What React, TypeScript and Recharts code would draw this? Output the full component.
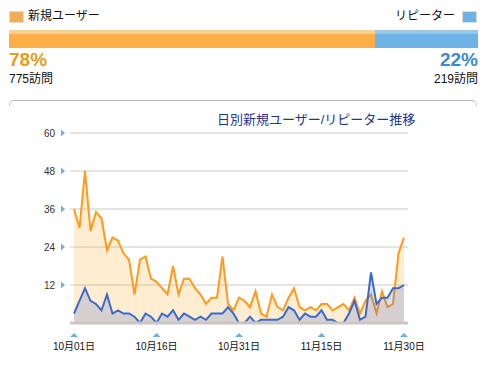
import { Area, AreaChart, CartesianGrid, XAxis, YAxis } from "recharts";

const newUsers = [
  36, 30, 48, 29, 35, 33, 23, 27, 26, 22, 20, 9, 20, 21, 14, 13, 11, 9, 18, 9, 14, 14, 11, 9, 6, 8, 8, 21, 6, 4, 8,
  7, 5, 10, 3, 2, 9, 5, 4, 8, 11, 5, 4, 5, 4, 6, 6, 4, 5, 6, 4, 8, 3, 7, 9, 3, 10, 5, 6, 22, 27
];
const repeaters = [
  3, 7, 11, 7, 6, 4, 9, 3, 4, 3, 3, 2, 0, 3, 2, 0, 3, 2, 4, 1, 3, 2, 1, 2, 1, 3, 3, 3, 5, 3, 0,
  0, 2, 0, 1, 1, 1, 1, 2, 5, 4, 1, 3, 2, 2, 4, 1, 1, 0, 0, 3, 7, 1, 2, 16, 6, 8, 8, 11, 11, 12
];
const octDays = 31;
const novDays = 30;
const xTicks = ["10月01日", "10月16日", "10月31日", "11月15日", "11月30日"];
const yTicks = [0, 6, 12, 18, 24, 30, 36, 42, 48, 54, 60];
const yLabels = [12, 24, 36, 48, 60];
const totals = { newUsers: 775, repeaters: 219 };
const shares = { newUsers: 78, repeaters: 22 };

const pad = (n: number) => (n < 10 ? "0" + n : String(n));
const days = [
  ...Array.from({ length: octDays }, (_, i) => `10月${pad(i + 1)}日`),
  ...Array.from({ length: novDays }, (_, i) => `11月${pad(i + 1)}日`)
];
const data = days.map((day, i) => ({ day, newUsers: newUsers[i], repeaters: repeaters[i] }));

const font = '"Liberation Sans", "Noto Sans CJK JP", sans-serif';
const tickBlue = "#6ab0e0";

function YTick({ x, y, payload }: any) {
  if (!yLabels.includes(payload.value)) return null;
  return (
    <g>
      <text x={x - 15} y={y} textAnchor="end" dominantBaseline="central" fontSize={10} fill="#333" fontFamily={font}>
        {payload.value}
      </text>
      <polygon points={`${x - 9},${y - 3.5} ${x - 9},${y + 3.5} ${x - 5},${y}`} fill={tickBlue} />
    </g>
  );
}

function XTick({ x, y, payload }: any) {
  return (
    <g>
      <polygon points={`${x - 4},${y + 14} ${x + 4},${y + 14} ${x},${y + 10}`} fill={tickBlue} />
      <text x={x} y={y + 23} textAnchor="middle" dominantBaseline="central" fontSize={10} fill="#111" fontFamily={font}>
        {payload.value}
      </text>
    </g>
  );
}

export default function App() {
  const splitPct = shares.newUsers;
  return (
    <div style={{ position: "absolute", left: 0, top: 0, width: 482, height: 370, background: "#fff", fontFamily: font, overflow: "hidden" }}>
      {/* legend */}
      <div style={{ position: "absolute", left: 9, top: 11, width: 13, height: 10, background: "#f0ad55", border: "1px solid #ddd" }} />
      <div style={{ position: "absolute", left: 28, top: 8, fontSize: 12, color: "#111", lineHeight: "16px" }}>新規ユーザー</div>
      <div style={{ position: "absolute", right: 27, top: 8, fontSize: 12, color: "#111", lineHeight: "16px" }}>リピーター</div>
      <div style={{ position: "absolute", left: 462, top: 11, width: 13, height: 10, background: "#6cb2e4", border: "1px solid #ddd" }} />

      {/* share bar */}
      <div style={{ position: "absolute", left: 9, top: 30, width: 469, height: 18, display: "flex" }}>
        <div style={{ width: `${splitPct}%`, background: "linear-gradient(#ffcf8e 0 4px, #ffad46 4px)" }} />
        <div style={{ flex: 1, background: "linear-gradient(#95c8ee 0 4px, #6cb2e4 4px)" }} />
      </div>
      <div style={{ position: "absolute", left: 9, top: 49, fontSize: 19, fontWeight: "bold", color: "#e39d22", lineHeight: "22px" }}>
        {shares.newUsers}%
      </div>
      <div style={{ position: "absolute", right: 4, top: 49, fontSize: 19, fontWeight: "bold", color: "#3a8ccc", lineHeight: "22px" }}>
        {shares.repeaters}%
      </div>
      <div style={{ position: "absolute", left: 9, top: 71, fontSize: 12, color: "#111", lineHeight: "16px" }}>{totals.newUsers}訪問</div>
      <div style={{ position: "absolute", right: 4, top: 71, fontSize: 12, color: "#111", lineHeight: "16px" }}>{totals.repeaters}訪問</div>

      {/* panel top */}
      <div style={{ position: "absolute", left: 9, top: 100, width: 466, height: 5, borderTop: "1px solid #bbb", borderLeft: "1px solid #ccc", borderRight: "1px solid #ccc", borderRadius: "5px 5px 0 0" }} />
      <div style={{ position: "absolute", left: 217, top: 111, fontSize: 13, color: "#1f3690", lineHeight: "18px" }}>日別新規ユーザー/リピーター推移</div>

      <div style={{ position: "absolute", left: 0, top: 0 }}>
        <AreaChart width={482} height={370} data={data} margin={{ top: 133, right: 74, bottom: 17, left: 40 }}>
          <CartesianGrid horizontal vertical={false} stroke="#c9c9c9" />
          <XAxis
            dataKey="day"
            ticks={xTicks}
            interval={0}
            padding={{ left: 4, right: 4 }}
            height={30}
            tickSize={0}
            tickMargin={0}
            tickLine={false}
            axisLine={{ stroke: "#cbc5c5", strokeWidth: 3 }}
            tick={XTick}
          />
          <YAxis
            domain={[0, 60]}
            ticks={yTicks}
            width={30}
            tickSize={0}
            tickMargin={0}
            tickLine={false}
            axisLine={false}
            tick={YTick}
          />
          <Area
            type="linear"
            dataKey="newUsers"
            stroke="#ff9a1c"
            strokeWidth={2}
            fill="#ff9900"
            fillOpacity={0.18}
            dot={false}
            activeDot={false}
            isAnimationActive={false}
          />
          <Area
            type="linear"
            dataKey="repeaters"
            stroke="#3a6bc9"
            strokeWidth={2}
            fill="#3366cc"
            fillOpacity={0.2}
            dot={false}
            activeDot={false}
            isAnimationActive={false}
          />
        </AreaChart>
      </div>
    </div>
  );
}
